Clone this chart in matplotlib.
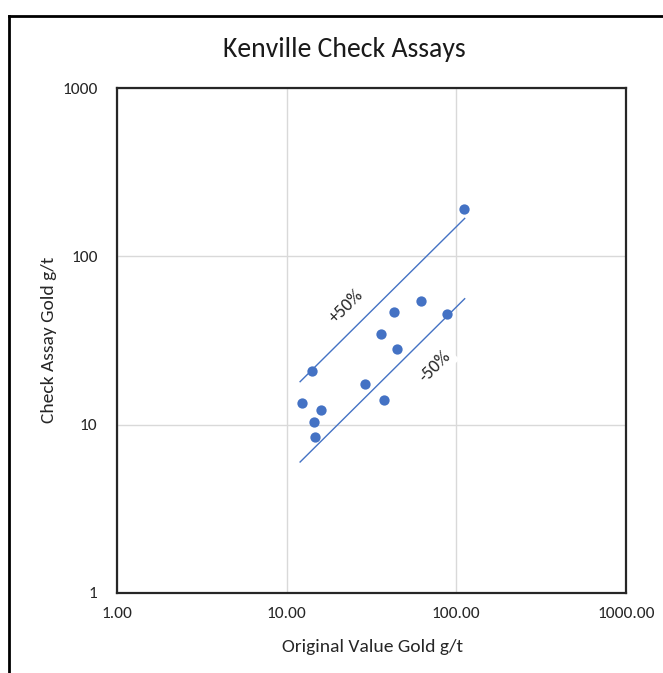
import matplotlib
matplotlib.use("Agg")
import matplotlib.pyplot as plt
from matplotlib.lines import Line2D
from matplotlib.ticker import FixedLocator, FixedFormatter, NullLocator

plt.rcParams['font.family'] = ['Carlito', 'Lato', 'DejaVu Sans']

# Data
original = [111.4, 61.7, 42.9, 88.5, 35.8, 44.5, 14.1, 28.9, 37.5, 12.3, 15.9, 14.4, 14.6]
check = [190.3, 54.5, 46.7, 45.6, 34.4, 28.2, 20.8, 17.4, 14.0, 13.5, 12.2, 10.4, 8.5]
band_x = [12.0, 112.0]
plus_factor = 1.5
minus_factor = 0.5

x_ticks = [1, 10, 100, 1000]
x_ticklabels = ['1.00', '10.00', '100.00', '1000.00']
y_ticks = [1, 10, 100, 1000]
y_ticklabels = ['1', '10', '100', '1000']

blue = '#4472C4'
W, H = 663, 673
fig = plt.figure(figsize=(W / 100, H / 100), dpi=100)
ax = fig.add_axes([117 / W, 1 - 593 / H, (626 - 117) / W, (593 - 88) / H])

ax.set_xscale('log')
ax.set_yscale('log')
ax.set_xlim(1, 1000)
ax.set_ylim(1, 1000)

ax.plot(band_x, [v * plus_factor for v in band_x], color=blue, lw=1.0, zorder=2)
ax.plot(band_x, [v * minus_factor for v in band_x], color=blue, lw=1.0, zorder=2)
ax.scatter(original, check, s=55, color=blue, zorder=3, linewidths=0)

ax.xaxis.set_major_locator(FixedLocator(x_ticks))
ax.xaxis.set_major_formatter(FixedFormatter(x_ticklabels))
ax.yaxis.set_major_locator(FixedLocator(y_ticks))
ax.yaxis.set_major_formatter(FixedFormatter(y_ticklabels))
ax.xaxis.set_minor_locator(NullLocator())
ax.yaxis.set_minor_locator(NullLocator())
ax.tick_params(axis='both', length=0, labelsize=12.5, colors='#262626')
ax.tick_params(axis='x', pad=10)
ax.tick_params(axis='y', pad=14)
ax.grid(True, color='#D9D9D9', lw=1.0, zorder=0)
ax.set_axisbelow(True)
for s in ax.spines.values():
    s.set_color('#262626')
    s.set_linewidth(1.6)

ax.text(22.6, 50.2, '+50%', rotation=45, ha='center', va='center', fontsize=13, color='#262626')
ax.text(74.8, 22.1, '-50%', rotation=45, ha='center', va='center', fontsize=13, color='#262626',
        bbox=dict(facecolor='white', edgecolor='none', pad=3), zorder=4)

fig.text(344 / W, 1 - 50 / H, 'Kenville Check Assays', ha='center', va='center', fontsize=20, color='#1a1a1a')
fig.text(373 / W, 1 - 647 / H, 'Original Value Gold g/t', ha='center', va='center', fontsize=14, color='#262626')
fig.text(49 / W, 1 - 340 / H, 'Check Assay Gold g/t', ha='center', va='center', rotation=90, fontsize=14, color='#262626')

# outer frame lines
fig.add_artist(Line2D([9 / W, 9 / W], [0, 1 - 16 / H], transform=fig.transFigure, color='black', lw=2))
fig.add_artist(Line2D([9 / W, 1], [1 - 16 / H, 1 - 16 / H], transform=fig.transFigure, color='black', lw=2))

fig.savefig('out.png', dpi=100)
